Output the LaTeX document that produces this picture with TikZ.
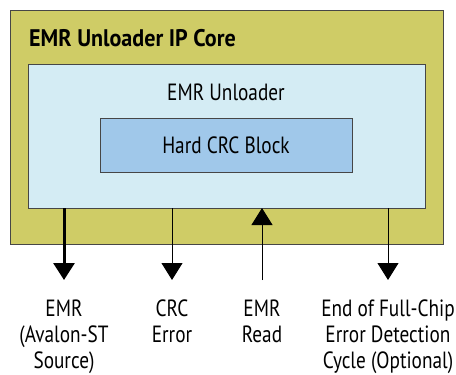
\documentclass[tikz,border=0pt]{standalone}
\usepackage{fontspec}
\setmainfont[FakeStretch=0.82,BoldFeatures={FakeStretch=0.92}]{PT Sans}
\usetikzlibrary{arrows.meta,positioning}
\definecolor{coreolive}{RGB}{207,204,102}
\definecolor{unloaderblue}{RGB}{212,236,244}
\definecolor{crcblue}{RGB}{160,200,234}
\definecolor{edgegrey}{RGB}{70,70,70}
\tikzset{
  box/.style={draw=edgegrey, line width=0.9pt, inner sep=0pt},
  sig/.style={line width=1pt, -{Triangle[width=21pt,length=17pt]}},
  bussig/.style={line width=3pt, -{Triangle[width=21pt,length=17pt]}},
  boxtext/.style={font=\fontsize{23.5}{27}\selectfont, inner sep=0pt, anchor=base},
  % first line carries a strut so the north anchor sits a fixed distance above its baseline
  lbl/.style={align=center, font=\fontsize{23.5}{26}\selectfont, inner sep=0pt, anchor=north}
}
\begin{document}
\begin{tikzpicture}[x=1pt,y=-1pt]
\useasboundingbox (0,0) rectangle (456,375);
% outer IP core
\node[box, fill=coreolive, minimum width=433pt, minimum height=234pt, anchor=north west] (core) at (10,10) {};
\node[font=\bfseries\fontsize{24}{28}\selectfont, anchor=base west, inner sep=0pt] (coretitle) at (29,46) {EMR Unloader IP Core};
% EMR unloader
\node[box, fill=unloaderblue, minimum width=397pt, minimum height=144pt, anchor=north west] (unl) at (28,64) {};
\node[boxtext] (unltitle) at (226,100) {EMR Unloader};
% hard CRC block
\node[box, fill=crcblue, minimum width=252pt, minimum height=54pt, anchor=north west] (crc) at (100,118) {};
\node[boxtext] (crctitle) at (226,153) {Hard CRC Block};
% signal end points
\coordinate (s1) at (64,208);
\coordinate (s2) at (172,208);
\coordinate (s3) at (262,208);
\coordinate (s4) at (388,208);
\coordinate (e1) at (64,280);
\coordinate (e2) at (172,280);
\coordinate (e3) at (262,280);
\coordinate (e4) at (388,280);
\draw[bussig] (s1) -- (e1);
\draw[sig] (s2) -- (e2);
\draw[sig] (e3) -- (s3);
\draw[sig] (s4) -- (e4);
% signal labels (first baseline at y = 316; strut height 0.7 x 26 = 18.2)
\node[lbl] (l1) at (64,297.8) {\strut EMR\\(Avalon-ST\\Source)};
\node[lbl] (l2) at (172,297.8) {\strut CRC\\Error};
\node[lbl] (l3) at (262,297.8) {\strut EMR\\Read};
\node[lbl] (l4) at (388,297.8) {\strut End of Full-Chip\\Error Detection\\Cycle (Optional)};
\end{tikzpicture}
\end{document}
